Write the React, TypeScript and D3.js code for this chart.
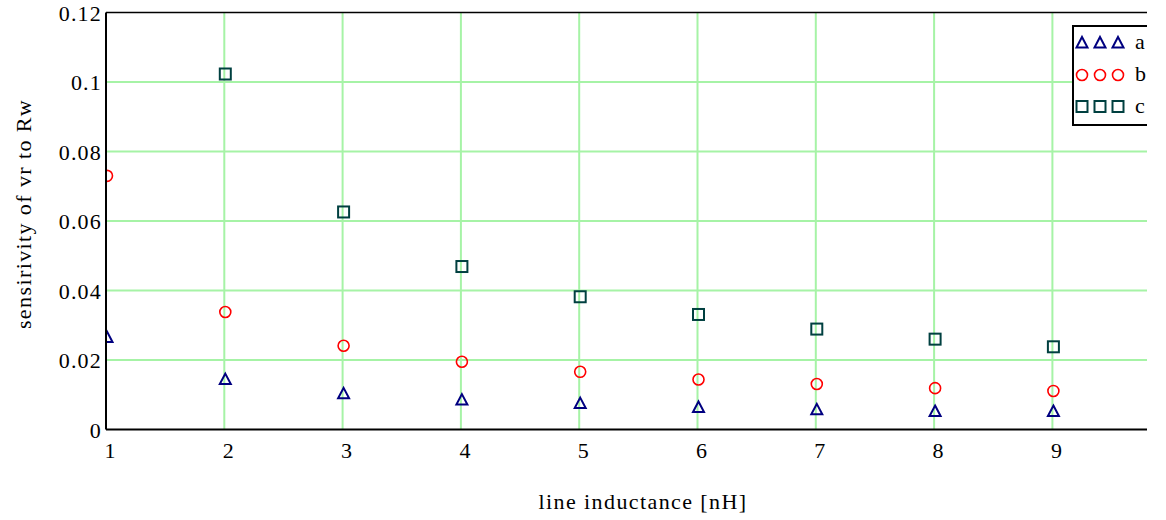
import React, { useRef, useEffect } from 'react';
import * as d3 from 'd3';

// inductance steps (nH)
const xValues = [1, 2, 3, 4, 5, 6, 7, 8, 9];
const seriesA = [0.0266, 0.0145, 0.0104, 0.0086, 0.0076, 0.0065, 0.0058, 0.0053, 0.0053];
const seriesB = [0.0730, 0.0338, 0.0241, 0.0195, 0.0166, 0.0144, 0.0131, 0.0119, 0.0111];
const seriesC = [null, 0.1023, 0.0626, 0.0469, 0.0382, 0.0331, 0.0289, 0.0260, 0.0238];
const yTicks = [0, 0.02, 0.04, 0.06, 0.08, 0.1, 0.12];
const yTickLabels = ['0', '0.02', '0.04', '0.06', '0.08', '0.1', '0.12'];
const legendNames = ['a', 'b', 'c'];

const FONT = '"Liberation Serif", "Times New Roman", serif';

const App = () => {
  const svgRef = useRef<SVGSVGElement>(null);

  useEffect(() => {
    const svg = d3.select(svgRef.current);
    svg.selectAll('*').remove();

    const left = 106;
    const top = 12.5;
    const bottom = 429.5;
    const clipRight = 1147;

    const x = d3.scaleLinear().domain([1, 10]).range([left, left + 9 * 118.3]);
    const y = d3.scaleLinear().domain([0, 0.12]).range([bottom, top]);

    svg.append('defs').append('clipPath').attr('id', 'plotclip')
      .append('rect')
      .attr('x', left).attr('y', 0)
      .attr('width', clipRight - left).attr('height', bottom + 2);

    const plot = svg.append('g').attr('clip-path', 'url(#plotclip)');

    // grid
    plot.selectAll('.vgrid').data(xValues.slice(1)).enter().append('line')
      .attr('x1', d => x(d)).attr('x2', d => x(d))
      .attr('y1', top).attr('y2', bottom)
      .attr('stroke', '#a6f3a6').attr('stroke-width', 2);
    plot.selectAll('.hgrid').data(yTicks.slice(1, -1)).enter().append('line')
      .attr('x1', left).attr('x2', clipRight)
      .attr('y1', d => y(d)).attr('y2', d => y(d))
      .attr('stroke', '#a6f3a6').attr('stroke-width', 2);

    // series markers
    const ptsA = xValues.map((v, i) => ({ x: v, y: seriesA[i] }));
    const ptsB = xValues.map((v, i) => ({ x: v, y: seriesB[i] }));
    const ptsC = xValues.map((v, i) => ({ x: v, y: seriesC[i] })).filter(d => d.y != null);

    const tri = (cx: number, cy: number) => `M${cx},${cy - 5.5}L${cx + 5.5},${cy + 5}L${cx - 5.5},${cy + 5}Z`;

    plot.selectAll('.ptC').data(ptsC).enter().append('rect')
      .attr('x', d => x(d.x) + 1 - 5.5).attr('y', d => y(d.y as number) - 5.5)
      .attr('width', 11).attr('height', 11)
      .attr('fill', 'none').attr('stroke', '#004040').attr('stroke-width', 2);

    plot.selectAll('.ptB').data(ptsB).enter().append('circle')
      .attr('cx', d => x(d.x) + 1).attr('cy', d => y(d.y))
      .attr('r', 5.5)
      .attr('fill', 'none').attr('stroke', '#ff0000').attr('stroke-width', 1.6);

    plot.selectAll('.ptA').data(ptsA).enter().append('path')
      .attr('d', d => tri(x(d.x) + 1, y(d.y)))
      .attr('fill', 'none').attr('stroke', '#000080').attr('stroke-width', 2)
      .attr('stroke-linejoin', 'miter');

    // frame
    svg.append('line').attr('x1', left).attr('x2', clipRight).attr('y1', top).attr('y2', top)
      .attr('stroke', '#000').attr('stroke-width', 1.5);
    svg.append('line').attr('x1', left).attr('x2', clipRight).attr('y1', bottom).attr('y2', bottom)
      .attr('stroke', '#000').attr('stroke-width', 2);
    svg.append('line').attr('x1', left).attr('x2', left).attr('y1', top).attr('y2', bottom)
      .attr('stroke', '#000').attr('stroke-width', 2);

    // tick labels
    svg.selectAll('.ylab').data(yTicks).enter().append('text')
      .attr('x', left - 4).attr('y', d => y(d) + 8)
      .attr('text-anchor', 'end')
      .attr('font-family', FONT).attr('font-size', 22).attr('letter-spacing', 1.2)
      .text((d, i) => yTickLabels[i]);

    svg.selectAll('.xlab').data(xValues).enter().append('text')
      .attr('x', d => x(d) + 4).attr('y', 458)
      .attr('text-anchor', 'middle')
      .attr('font-family', FONT).attr('font-size', 22)
      .text(d => d);

    // axis titles
    svg.append('text')
      .attr('x', 643).attr('y', 509)
      .attr('text-anchor', 'middle')
      .attr('font-family', FONT).attr('font-size', 22).attr('letter-spacing', 1.4)
      .text('line inductance [nH]');

    svg.append('text')
      .attr('transform', `translate(31,214) rotate(-90)`)
      .attr('text-anchor', 'middle')
      .attr('font-family', FONT).attr('font-size', 22).attr('letter-spacing', 1.4)
      .text('sensirivity of vr to Rw');

    // legend
    const lg = svg.append('g').attr('clip-path', 'url(#plotclip)');
    lg.append('rect')
      .attr('x', 1073).attr('y', 26).attr('width', 100).attr('height', 99)
      .attr('fill', '#fff').attr('stroke', '#000').attr('stroke-width', 2);
    const rowY = [42.5, 75, 106.5];
    const markX = [1082, 1100, 1118];
    markX.forEach(mx => {
      lg.append('path').attr('d', tri(mx, rowY[0]))
        .attr('fill', 'none').attr('stroke', '#000080').attr('stroke-width', 2);
      lg.append('circle').attr('cx', mx).attr('cy', rowY[1]).attr('r', 5.5)
        .attr('fill', 'none').attr('stroke', '#ff0000').attr('stroke-width', 1.6);
      lg.append('rect').attr('x', mx - 5.5).attr('y', rowY[2] - 5.5).attr('width', 11).attr('height', 11)
        .attr('fill', 'none').attr('stroke', '#004040').attr('stroke-width', 2);
    });
    legendNames.forEach((n, i) => {
      lg.append('text')
        .attr('x', 1135).attr('y', rowY[i] + 6)
        .attr('font-family', FONT).attr('font-size', 22)
        .text(n);
    });
  }, []);

  return (
    <svg ref={svgRef} width={1166} height={520}
      style={{ position: 'absolute', left: 0, top: 0, background: '#fff' }} />
  );
};

export default App;
